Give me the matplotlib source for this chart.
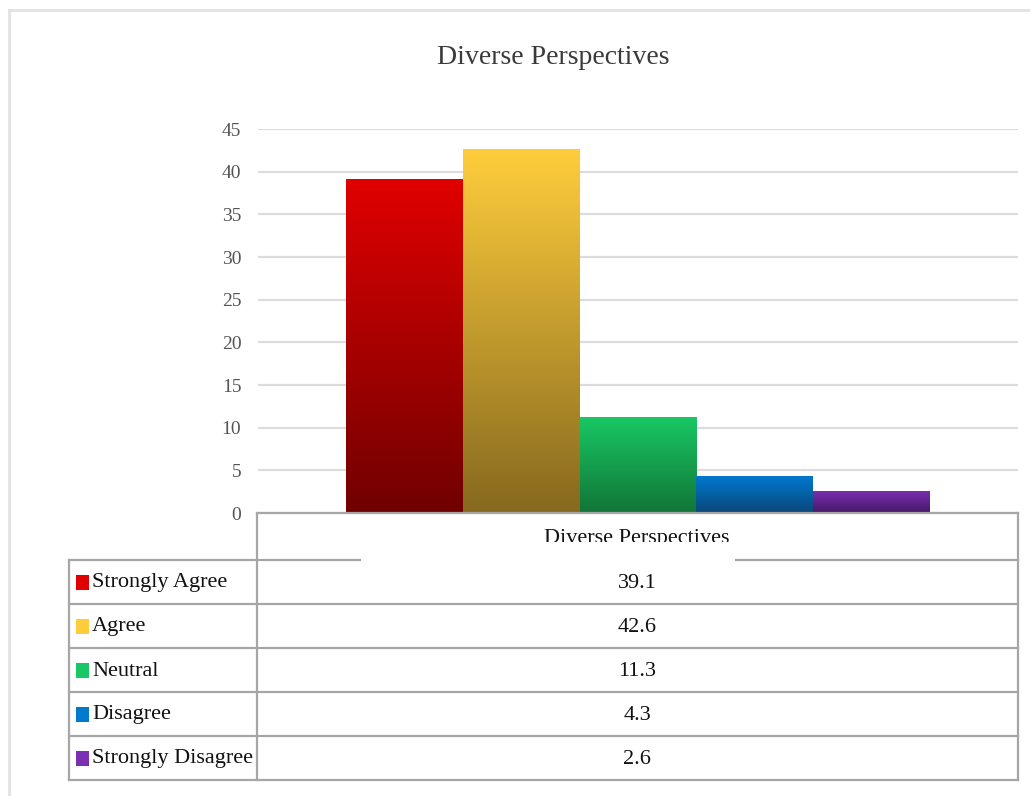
import matplotlib.pyplot as plt
import numpy as np
from matplotlib.colors import LinearSegmentedColormap
from matplotlib.lines import Line2D
from matplotlib.patches import Rectangle

# Survey results
title = "Diverse Perspectives"
categories = ["Strongly Agree", "Agree", "Neutral", "Disagree", "Strongly Disagree"]
values = [39.1, 42.6, 11.3, 4.3, 2.6]
value_labels = ["39.1", "42.6", "11.3", "4.3", "2.6"]
yticks = [0, 5, 10, 15, 20, 25, 30, 35, 40, 45]

# Gradient colours for each bar (top, bottom)
top_colors = ["#E00000", "#FFCD3C", "#19C864", "#0079CE", "#7B2FB2"]
bottom_colors = ["#700000", "#86691F", "#117538", "#0A4678", "#461866"]

plt.rcParams['font.family'] = ['Liberation Serif', 'DejaVu Serif']

W, H = 1030, 796
fig = plt.figure(figsize=(W / 100, H / 100), dpi=100)


def fx(x):
    return x / W


def fy(y):
    return 1 - y / H


# Plot area in pixel terms of the original
ax = fig.add_axes([fx(258), fy(513), (1018 - 258) / W, (513 - 129) / H])

n = len(values)
xpos = np.arange(n) - (n - 1) / 2
bars = ax.bar(xpos, values, width=1.0, color='none', edgecolor='none', zorder=3)

# Fill each bar with a vertical gradient clipped to the bar
grad = np.linspace(0, 1, 256).reshape(-1, 1)
for bar, top, bot in zip(bars, top_colors, bottom_colors):
    cmap = LinearSegmentedColormap.from_list('g', [bot, top])
    x0 = bar.get_x()
    x1 = x0 + bar.get_width()
    h = bar.get_height()
    im = ax.imshow(grad, cmap=cmap, origin='lower', aspect='auto',
                   extent=[x0, x1, 0, h], zorder=3)
    im.set_clip_path(bar)

ax.set_xlim(-3.25, 3.25)
ax.set_ylim(0, 45)
ax.set_yticks(yticks)
ax.set_xticks([])
ax.tick_params(axis='y', length=0, pad=12, labelsize=14, labelcolor='#555555')
for s in ax.spines.values():
    s.set_visible(False)
ax.yaxis.grid(True, color='#DCDCDC', linewidth=1.6, zorder=0)
ax.set_axisbelow(True)

# Chart title
fig.text(fx(553), fy(58), title, ha='center', va='center', fontsize=20, color='#3A3A3A')

# Outer chart border (light gray, only top and left visible)
border_kw = dict(color='#E2E2E2', linewidth=2, transform=fig.transFigure)
fig.add_artist(Line2D([fx(8.5), fx(1030)], [fy(9.5), fy(9.5)], **border_kw))
fig.add_artist(Line2D([fx(8.5), fx(8.5)], [fy(9.5), fy(796)], **border_kw))

# Data table below the chart
line_kw = dict(color='#A6A6A6', linewidth=1.6, transform=fig.transFigure, zorder=6)
tbl_left, tbl_mid, tbl_right = 69, 257, 1018
tbl_top, header_bot, row_h = 513, 560, 44
tbl_bot = header_bot + row_h * n

fig.add_artist(Line2D([fx(tbl_mid), fx(tbl_right)], [fy(tbl_top)] * 2, **line_kw))
fig.add_artist(Line2D([fx(tbl_mid)] * 2, [fy(tbl_top), fy(tbl_bot)], **line_kw))
fig.add_artist(Line2D([fx(tbl_right)] * 2, [fy(tbl_top), fy(tbl_bot)], **line_kw))
fig.add_artist(Line2D([fx(tbl_left)] * 2, [fy(header_bot), fy(tbl_bot)], **line_kw))

# Header text, partly hidden like in the original
fig.text(fx(637), fy(538), title, ha='center', va='center', fontsize=16, color='#111111')
fig.add_artist(Rectangle((fx(360), fy(563)), fx(736 - 360), (563 - 542) / H, zorder=5,
                         facecolor='white', edgecolor='none', transform=fig.transFigure))
fig.add_artist(Line2D([fx(tbl_left), fx(360)], [fy(header_bot)] * 2, **line_kw))
fig.add_artist(Line2D([fx(736), fx(tbl_right)], [fy(header_bot)] * 2, **line_kw))

for i, (cat, lab) in enumerate(zip(categories, value_labels)):
    y_bot = header_bot + row_h * (i + 1)
    y_mid = y_bot - row_h / 2
    fig.add_artist(Line2D([fx(tbl_left), fx(tbl_right)], [fy(y_bot)] * 2, **line_kw))
    # Legend key with the bar gradient colours
    key = Rectangle((fx(76), fy(y_mid + 8)), 13 / W, 15 / H, facecolor=top_colors[i],
                    edgecolor='none', transform=fig.transFigure)
    fig.add_artist(key)
    fig.text(fx(92), fy(y_mid + 1), cat, ha='left', va='center', fontsize=16, color='#111111')
    fig.text(fx(637), fy(y_mid + 1), lab, ha='center', va='center', fontsize=16, color='#111111')

plt.savefig('out.png', dpi=100, facecolor='white')
